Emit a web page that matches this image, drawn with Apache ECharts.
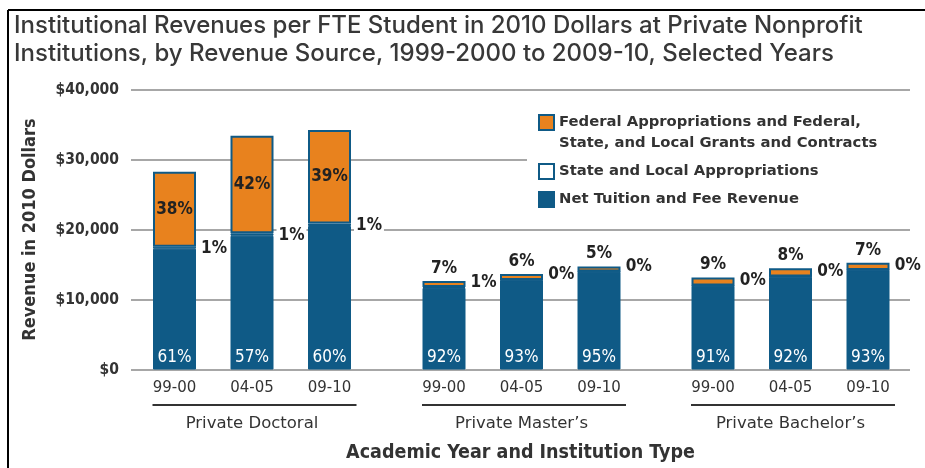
<!DOCTYPE html>
<html>
<head>
<meta charset="utf-8">
<script src="https://cdn.jsdelivr.net/npm/echarts@6/dist/echarts.min.js"></script>
<style>
html, body { margin: 0; padding: 0; background: #fff; }
#main { width: 925px; height: 468px; }
</style>
</head>
<body>
<div id="main"></div>
<script>
// institution types and academic years
let groupList = ['Private Doctoral', 'Private Master\u2019s', 'Private Bachelor\u2019s'];
let yearList = ['99-00', '04-05', '09-10'];

// revenue per FTE student (2010 dollars), one row per institution type
let tuitionList = [[17250, 19100, 20500], [11650, 12750, 13950], [11950, 13250, 14150]];
let stateList = [[300, 350, 350], [130, 50, 50], [50, 50, 50]];
let federalList = [[10700, 13950, 13350], [880, 850, 730], [1150, 1150, 1050]];

// percent labels printed on the bars
let tuitionPct = [['61%', '57%', '60%'], ['92%', '93%', '95%'], ['91%', '92%', '93%']];
let statePct = [['1%', '1%', '1%'], ['1%', '0%', '0%'], ['0%', '0%', '0%']];
let federalPct = [['38%', '42%', '39%'], ['7%', '6%', '5%'], ['9%', '8%', '7%']];

let yTicks = [0, 10000, 20000, 30000, 40000];
let legendNames = ['Federal Appropriations and Federal, State, and Local Grants and Contracts',
	'State and Local Appropriations', 'Net Tuition and Fee Revenue'];

// layout of the three bar groups
let groupLeft = [135.75, 405.25, 674.25];
let groupWidth = 232.5;

let blue = '#0f5a86';
let orange = '#e8821e';
let textColor = '#333';
let narrow = "'DejaVu Sans Condensed', 'Liberation Sans Narrow', sans-serif";
let wide = "'DejaVu Sans', sans-serif";

var myChart = echarts.init(document.getElementById('main'));

// background grid carries the y labels and grid lines, one grid per group carries bars
let grids = [{ left: 131, right: 15, top: 89.5, bottom: 98.5 }];
let xAxes = [{
	gridIndex: 0,
	type: 'category',
	data: [],
	axisLine: { show: false },
	axisTick: { show: false },
	axisLabel: { show: false },
	name: 'Academic Year and Institution Type',
	nameLocation: 'middle',
	nameGap: 73,
	nameTextStyle: { fontFamily: narrow, fontSize: 19.5, fontWeight: 'bold', color: textColor }
}];
let yAxes = [{
	gridIndex: 0,
	type: 'value',
	min: yTicks[0],
	max: yTicks[yTicks.length - 1],
	interval: yTicks[1] - yTicks[0],
	axisLine: { show: false },
	axisTick: { show: false },
	splitLine: { lineStyle: { color: '#8a8a8a', width: 1.5 } },
	axisLabel: {
		margin: 12,
		fontFamily: narrow,
		fontSize: 15.5,
		fontWeight: 'bold',
		color: textColor,
		formatter: function (v) { return '$' + v.toLocaleString('en-US'); }
	},
	name: 'Revenue in 2010 Dollars',
	nameLocation: 'middle',
	nameGap: 92,
	nameTextStyle: { fontFamily: narrow, fontSize: 18, fontWeight: 'bold', color: textColor }
}];
let seriesList = [];

for (let g = 0; g < groupList.length; g++) {
	grids.push({ left: groupLeft[g], width: groupWidth, top: 89.5, bottom: 98.5 });
	xAxes.push({
		gridIndex: g + 1,
		type: 'category',
		data: yearList,
		axisLine: { show: false },
		axisTick: { show: false },
		axisLabel: { margin: 11, fontFamily: wide, fontSize: 15, color: textColor },
		name: groupList[g],
		nameLocation: 'middle',
		nameGap: 46,
		nameTextStyle: { fontFamily: wide, fontSize: 16.5, color: textColor }
	});
	yAxes.push({
		gridIndex: g + 1,
		type: 'value',
		min: yTicks[0],
		max: yTicks[yTicks.length - 1],
		show: false
	});

	let tData = tuitionList[g].map(function (v, i) {
		return { value: v, label: { formatter: tuitionPct[g][i] } };
	});
	let sData = stateList[g].map(function (v, i) {
		let small = federalList[g][i] < 5000;
		return { value: v, label: { formatter: statePct[g][i], offset: [0, small ? -5 : 1] } };
	});
	let fData = federalList[g].map(function (v, i) {
		let small = v < 5000;
		return { value: v, label: { formatter: federalPct[g][i], position: small ? 'top' : 'inside' } };
	});

	seriesList.push({
		name: legendNames[2],
		type: 'bar',
		stack: 'rev' + g,
		xAxisIndex: g + 1,
		yAxisIndex: g + 1,
		barWidth: 43,
		data: tData,
		itemStyle: { color: blue, borderColor: blue, borderWidth: 1 },
		label: { show: true, position: 'insideBottom', distance: 3, fontFamily: narrow, fontSize: 17, color: '#fff' }
	});
	seriesList.push({
		name: legendNames[1],
		type: 'bar',
		stack: 'rev' + g,
		xAxisIndex: g + 1,
		yAxisIndex: g + 1,
		barWidth: 43,
		data: sData,
		itemStyle: { color: blue, borderColor: blue, borderWidth: 1 },
		label: {
			show: true, position: 'right', distance: 3, fontFamily: narrow, fontSize: 17,
			fontWeight: 'bold', color: '#222', backgroundColor: '#fff', padding: [1, 2]
		}
	});
	seriesList.push({
		name: legendNames[0],
		type: 'bar',
		stack: 'rev' + g,
		xAxisIndex: g + 1,
		yAxisIndex: g + 1,
		barWidth: 43,
		data: fData,
		itemStyle: { color: orange, borderColor: blue, borderWidth: 2 },
		label: { show: true, distance: 4, fontFamily: narrow, fontSize: 17, fontWeight: 'bold', color: '#222' }
	});
}

var option = {
	animation: false,
	backgroundColor: '#fff',
	title: {
		text: 'Institutional Revenues per FTE Student in 2010 Dollars at Private Nonprofit\nInstitutions, by Revenue Source, 1999-2000 to 2009-10, Selected Years',
		left: 14,
		top: 12,
		padding: 0,
		textStyle: {
			fontFamily: "Inter, 'Liberation Sans', sans-serif",
			fontSize: 24,
			fontWeight: 500,
			lineHeight: 28,
			color: '#383838'
		}
	},
	legend: {
		orient: 'vertical',
		left: 538,
		top: 91,
		padding: 0,
		itemGap: 7,
		itemWidth: 15,
		itemHeight: 15,
		icon: 'rect',
		data: [
			{ name: legendNames[0], itemStyle: { color: orange, borderColor: blue, borderWidth: 2 } },
			{ name: legendNames[1], itemStyle: { color: '#fff', borderColor: blue, borderWidth: 2 } },
			{ name: legendNames[2], itemStyle: { color: blue } }
		],
		// first entry wraps onto two lines, with the icon beside the first line
		formatter: function (name) {
			if (name == legendNames[0]) {
				return '{gap| }\nFederal Appropriations and Federal,\nState, and Local Grants and Contracts';
			}
			return name;
		},
		textStyle: {
			fontFamily: wide,
			fontSize: 14.8,
			fontWeight: 'bold',
			lineHeight: 21,
			color: textColor,
			rich: { gap: { fontSize: 14.8, lineHeight: 21 } }
		}
	},
	graphic: [
		// frame on left and top
		{ type: 'line', shape: { x1: 8, y1: 10, x2: 8, y2: 468 }, style: { stroke: '#000', lineWidth: 2 } },
		{ type: 'line', shape: { x1: 8, y1: 10, x2: 925, y2: 10 }, style: { stroke: '#000', lineWidth: 2 } },
		// white box behind the legend
		{ type: 'rect', z: 1, shape: { x: 527, y: 100, width: 390, height: 114 }, style: { fill: '#fff' } }
	],
	grid: grids,
	xAxis: xAxes,
	yAxis: yAxes,
	series: seriesList
};
myChart.setOption(option);

// underline below the year labels of each group, placed from the axis scale
drawUnderlines();
function drawUnderlines() {
	let lineY = myChart.convertToPixel({ yAxisIndex: 1 }, 0) + 35.5;
	let lines = [];
	for (let g = 0; g < groupList.length; g++) {
		let x1 = myChart.convertToPixel({ xAxisIndex: g + 1 }, 0) - 22;
		let x2 = myChart.convertToPixel({ xAxisIndex: g + 1 }, yearList.length - 1) + 27;
		lines.push({ type: 'line', shape: { x1: x1, y1: lineY, x2: x2, y2: lineY }, style: { stroke: '#333', lineWidth: 2 } });
	}
	myChart.setOption({ graphic: option.graphic.concat(lines) });
}
</script>
</body>
</html>
